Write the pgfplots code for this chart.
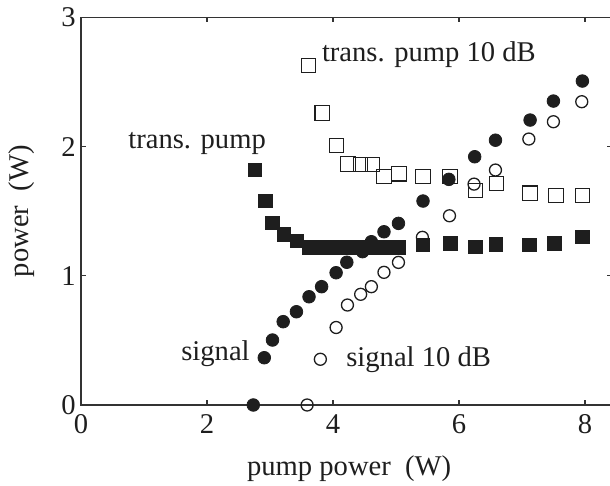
\documentclass[border=0pt]{standalone}
\usepackage{fontspec}
\setmainfont{Liberation Serif}
\usepackage{pgfplots}
\pgfplotsset{compat=1.18}
\definecolor{ink}{HTML}{1E1E1E}
\definecolor{frame}{HTML}{333333}

\begin{document}
\fontsize{14.3pt}{17pt}\selectfont
\begin{tikzpicture}
\useasboundingbox (-40.5pt,-40.5pt) rectangle (264.5pt,202.5pt);
\begin{axis}[
  at={(0,0)}, anchor=south west,
  scale only axis, width=265.5pt, height=193.75pt,
  xmin=0, xmax=8.43, ymin=0, ymax=3,
  xtick={0,2,4,6,8}, ytick={0,1,2,3},
  tick align=inside, major tick length=2.5pt,
  every tick/.style={frame, line width=0.6pt},
  axis line style={frame, line width=0.9pt},
  /pgf/number format/assume math mode=true,
  tick label style={text=ink},
  yticklabel style={inner sep=0pt, xshift=-2.5pt},
  xlabel={pump power\ \ (W)},
  ylabel={power\ \ (W)},
  xlabel style={at={(axis description cs:0.505,-0.181)}, anchor=base, text=ink},
  ylabel style={at={(axis description cs:-0.112,0.5)}, anchor=center, text=ink},
  clip=false,
]
% transmitted pump, 10 dB
\addplot[only marks, mark=square, mark size=3.6pt, ink, mark options={line width=0.55pt}] coordinates {
(3.61,2.63) (3.83,2.26) (4.06,2.01) (4.24,1.865) (4.44,1.86) (4.63,1.86)
(4.81,1.77) (5.05,1.79) (5.43,1.77) (5.86,1.77) (6.26,1.66) (6.60,1.715)
(7.13,1.64) (7.54,1.62) (7.96,1.62)
};
% signal, 10 dB
\addplot[only marks, mark=o, mark size=3.0pt, ink, mark options={line width=0.65pt}] coordinates {
(3.59,0) (3.80,0.354) (4.05,0.60) (4.23,0.774) (4.44,0.857) (4.61,0.916)
(4.81,1.027) (5.04,1.104) (5.42,1.298) (5.85,1.465) (6.24,1.71) (6.58,1.819)
(7.11,2.059) (7.50,2.193) (7.95,2.348)
};
% transmitted pump
\addplot[only marks, mark=square*, mark size=3.4pt, ink, mark options={draw=none, fill=ink}] coordinates {
(2.76,1.82) (2.93,1.58) (3.04,1.41) (3.22,1.32) (3.43,1.27)
(3.62,1.222) (3.82,1.222) (4.05,1.222) (4.23,1.222) (4.45,1.222) (4.61,1.222)
(4.81,1.222) (5.04,1.222) (5.43,1.24) (5.86,1.25) (6.26,1.225) (6.59,1.245)
(7.12,1.24) (7.52,1.25) (7.96,1.30)
};
% signal
\addplot[only marks, mark=*, mark size=3.15pt, ink, mark options={draw=none, fill=ink}] coordinates {
(2.735,0) (2.91,0.366) (3.04,0.503) (3.21,0.645) (3.42,0.722) (3.62,0.838)
(3.82,0.916) (4.05,1.024) (4.22,1.105) (4.47,1.187) (4.61,1.264) (4.81,1.341)
(5.04,1.406) (5.43,1.579) (5.84,1.747) (6.25,1.922) (6.58,2.05) (7.13,2.206)
(7.50,2.353) (7.96,2.508)
};
\node[anchor=base west, inner sep=0pt, text=ink] at (axis cs:3.82,2.657) {trans. pump 10 dB};
\node[anchor=base west, inner sep=0pt, text=ink] at (axis cs:0.746,1.989) {trans. pump};
\node[anchor=base west, inner sep=0pt, text=ink] at (axis cs:1.587,0.348) {signal};
\node[anchor=base west, inner sep=0pt, text=ink] at (axis cs:4.206,0.296) {signal 10 dB};
\end{axis}
\end{tikzpicture}
\end{document}
